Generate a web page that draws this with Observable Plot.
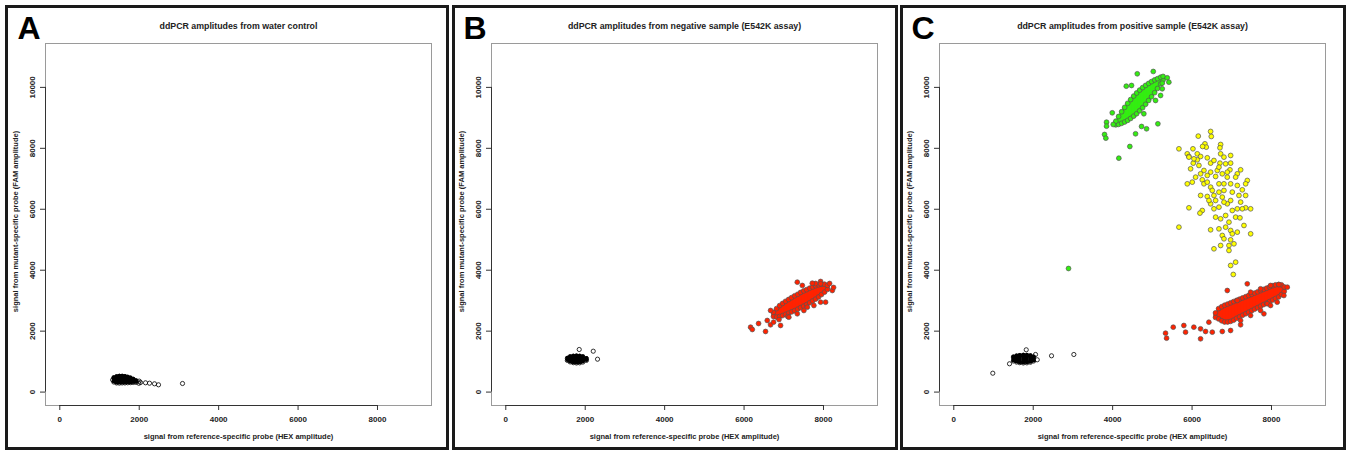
<!DOCTYPE html>
<html><head><meta charset="utf-8">
<script src="https://cdn.jsdelivr.net/npm/d3@7"></script>
<script src="https://cdn.jsdelivr.net/npm/@observablehq/plot@0.6"></script>
<style>
body{margin:0;background:#fff;}
#root{position:relative;width:1350px;height:451px;overflow:hidden;background:#fff;}
.border{position:absolute;box-sizing:border-box;border:3px solid #1a1a1a;top:5px;height:445px;}
</style></head><body><div id="root"></div>
<script>
// ---- axes / text ----
const xDomain = [-360, 9360];
const yDomain = [-440, 11440];
const xTicks = [0, 2000, 4000, 6000, 8000];
const yTicks = [0, 2000, 4000, 6000, 8000, 10000];
const panelLetters = ["A", "B", "C"];
const panelTitles = [
  "ddPCR amplitudes from water control",
  "ddPCR amplitudes from negative sample (E542K assay)",
  "ddPCR amplitudes from positive sample (E542K assay)"
];
const xLabel = "signal from reference-specific probe (HEX amplitude)";
const yLabel = "signal from mutant-specific probe (FAM amplitude)";

// ---- Panel A: water control (negative droplets, open black circles) ----
const coreAx  = [1360, 1430, 1500, 1570, 1640, 1710, 1780, 1850, 1920];
const coreAlo = [330, 300, 295, 300, 300, 305, 310, 315, 320];
const coreAhi = [470, 505, 520, 520, 510, 490, 460, 420, 370];
const looseA = [[1330,400],[2000,360],[1990,290],[2033,315],[2159,305],[2259,292],[2385,272],[2486,239],[3090,282]];

// ---- Panel B: negative sample ----
const coreBx  = [1550, 1620, 1700, 1780, 1860, 1940, 2030];
const coreBlo = [1040, 990, 965, 955, 960, 985, 1040];
const coreBhi = [1110, 1160, 1180, 1185, 1180, 1160, 1100];
const looseB = [[1849,1398],[2202,1342],[2310,1080]];
const redBx  = [6740, 6818, 6895, 6970, 7045, 7121, 7195, 7272, 7350, 7423, 7500, 7574, 7650, 7725, 7800, 7876, 7950, 8027, 8100];
const redBlo = [2480, 2460, 2480, 2510, 2550, 2590, 2630, 2670, 2720, 2770, 2820, 2870, 2930, 2990, 3050, 3120, 3200, 3280, 3370];
const redBhi = [2620, 2740, 2840, 2910, 2980, 3040, 3100, 3160, 3210, 3270, 3320, 3360, 3410, 3450, 3490, 3520, 3540, 3540, 3500];
const redBloose = [[6164,2130],[6207,2054],[6365,2251],[6541,1989],[6584,2350],[6667,2209],[6743,2294],[6919,2186],[6667,2678],
  [8222,3334],[8053,2950],[7592,2786],[7340,3607],[8154,3564],[8254,3433],[7927,3630],[7801,3564],[6880,2380],[7100,2480],
  [7467,3499],[7718,3574],[7927,3555],[7506,2678],[7758,2842],[7927,2950],[7340,2570],[7128,2458]];

// ---- Panel C: positive sample ----
const coreCx  = [1500, 1580, 1660, 1750, 1840, 1930, 2010];
const coreClo = [1020, 985, 965, 955, 960, 980, 1020];
const coreChi = [1150, 1185, 1200, 1210, 1205, 1190, 1150];
const looseC = [[1824,1388],[2058,1234],[2101,1060],[1403,929],[2461,1191],[3023,1234],[982,620]];
const redCx  = [6590, 6668, 6745, 6819, 6895, 6970, 7045, 7121, 7195, 7272, 7350, 7423, 7500, 7574, 7650, 7725, 7800, 7877, 7950, 8028, 8100, 8179, 8250, 8320];
const redClo = [2450, 2400, 2340, 2300, 2300, 2320, 2360, 2420, 2470, 2520, 2570, 2620, 2670, 2720, 2770, 2820, 2870, 2920, 2970, 3020, 3070, 3120, 3200, 3300];
const redChi = [2600, 2740, 2800, 2850, 2890, 2930, 2970, 3010, 3050, 3090, 3130, 3170, 3210, 3250, 3290, 3330, 3370, 3410, 3450, 3490, 3520, 3530, 3520, 3450];
const redCloose = [[5332,1933],[5358,1769],[5526,2130],[5793,2186],[5836,1966],[6045,2130],[6214,1749],[6214,2077],[6423,2294],
  [6340,1989],[6509,1966],[6761,1989],[6970,2022],[7222,2209],[7809,2570],[7894,2898],[7390,3554],[8312,3170],[8398,3443],[8186,3531],[6887,3334],
  [7474,3279],[7725,3390],[7977,3499],[7139,3006],[7474,2514],[7725,2678],[7977,2842],[7222,2350],[8144,2950]];
const greenCx  = [4080, 4150, 4226, 4302, 4378, 4453, 4530, 4604, 4680, 4755, 4830, 4906, 4980, 5057, 5130, 5208, 5270];
const greenClo = [8770, 8785, 8820, 8863, 8917, 8980, 9055, 9135, 9230, 9333, 9445, 9570, 9690, 9825, 9965, 10114, 10240];
const greenChi = [8890, 9045, 9200, 9343, 9477, 9600, 9715, 9815, 9910, 9993, 10065, 10130, 10190, 10245, 10285, 10334, 10360];
const greenCloose = [[4620,10446],[5023,10522],[5375,10315],[5416,10171],[5249,10138],[5249,9954],[5207,9734],[5081,9570],
  [4786,9134],[5139,8805],[4728,8717],[4854,8641],[4577,8477],[4433,8060],[4156,7676],[3990,9166],[3846,8858],[3846,8727],
  [4015,8783],[3796,8454],[3829,8333],[4343,10039],[4476,10062],[2889,4056]];
const yellowC = [[6467,8553],[6484,8389],[6156,8400],[6719,8126],[6702,8017],[6324,8148],[6358,8039],[6265,8061],[6022,7984],
  [5669,7984],[5879,7820],[5921,7733],[6131,7820],[6215,7733],[6131,7623],[6030,7514],[6383,7689],[6467,7514],[6551,7601],
  [6719,7820],[6971,7765],[6702,7514],[6845,7492],[6971,7514],[6954,7295],[7223,7295],[7139,7164],[7097,7054],[6887,7054],
  [6761,7164],[6635,7273],[6467,7218],[6299,7273],[5963,7328],[6173,7437],[6005,6890],[5879,6835],[6257,6967],[6299,6835],
  [6383,6890],[6467,6726],[6509,6617],[6215,6453],[6383,6420],[6551,6453],[6677,6562],[6803,6617],[6971,6835],[7139,6781],
  [7391,6945],[7349,6835],[7265,6638],[6761,6398],[6971,6288],[6887,6179],[6803,6234],[7223,6234],[7349,6048],[7139,6015],
  [7013,5960],[6677,6070],[6551,6015],[6467,6179],[6257,5960],[6198,5873],[5921,6048],[6593,5741],[6719,5687],[6845,5796],
  [7097,5741],[6929,5577],[7206,5719],[7307,5468],[6677,5358],[6467,5326],[6845,5413],[6971,5304],[7013,5194],[7139,5249],
  [7475,5194],[6761,5140],[6803,5030],[6971,4997],[7055,4866],[6929,4811],[6551,4702],[6719,4811],[6929,4647],[5669,5413],
  [6971,4155],[7097,4264],[7038,3860],[6593,6288],[6425,6288],[6677,6835],[6803,6835],[6593,7076],[6383,7109],[6215,7164],
  [6089,7054],[5921,7711],[6047,7656],[6803,7711],[6887,7218],[6677,7382],[7013,6562],[7181,6453],[7349,6453],[7265,6015],[7475,6015]];

// ---- styles ----
const RED = "#ff2200", GREEN = "#33ee11", YELLOW = "#ffff00", OUTLINE = "#555";
const FONT = "Liberation Sans, Arial, sans-serif";

const table = (xs, los, his) => xs.map((x, i) => ({x, lo: los[i], hi: his[i]}));

function clusterMarks(core, loose, fill, open, colW) {
  const dotOpts = open
    ? {r: 2.1, fill: "none", stroke: "black", strokeWidth: 0.8}
    : {r: 2.4, fill, stroke: OUTLINE, strokeWidth: 0.7};
  const marks = [];
  if (core) {
    // dense droplet core: solid columns between lower and upper edge
    marks.push(Plot.ruleX(core, {x: "x", y1: "lo", y2: "hi", stroke: open ? "black" : fill, strokeWidth: colW, strokeLinecap: open ? "round" : "butt"}));
    marks.push(Plot.dot(core, {x: "x", y: "lo", ...dotOpts}));
    marks.push(Plot.dot(core, {x: "x", y: "hi", ...dotOpts}));
  }
  if (loose) marks.push(Plot.dot(loose, {x: d => d[0], y: d => d[1], ...dotOpts}));
  return marks;
}

const panels = [
  {offset: 0, layers: [
    clusterMarks(table(coreAx, coreAlo, coreAhi), looseA, null, true, 4)
  ]},
  {offset: 446, layers: [
    clusterMarks(table(coreBx, coreBlo, coreBhi), looseB, null, true, 4),
    clusterMarks(table(redBx, redBlo, redBhi), redBloose, RED, false, 4.5)
  ]},
  {offset: 894, layers: [
    clusterMarks(table(coreCx, coreClo, coreChi), looseC, null, true, 4),
    clusterMarks(table(redCx, redClo, redChi), redCloose, RED, false, 4.5),
    clusterMarks(table(greenCx, greenClo, greenChi), greenCloose, GREEN, false, 4.5),
    clusterMarks(null, yellowC, YELLOW, false, 0)
  ]}
];

const borders = [[5, 444], [452, 446], [900, 446]];
const root = document.getElementById("root");
const fmt = d => String(d);

panels.forEach((p, i) => {
  const b = document.createElement("div");
  b.className = "border";
  b.style.left = borders[i][0] + "px";
  b.style.width = borders[i][1] + "px";
  root.appendChild(b);

  const chart = Plot.plot({
    width: 450, height: 451,
    marginLeft: 45, marginRight: 19, marginTop: 43, marginBottom: 46,
    x: {domain: xDomain},
    y: {domain: yDomain},
    style: {fontFamily: FONT, fontWeight: "bold", background: "transparent", color: "#222", overflow: "visible"},
    marks: [
      Plot.frame({stroke: "#9a9a9a", strokeWidth: 1}),
      Plot.ruleY([yDomain[0]], {x1: xTicks[0], x2: xTicks[xTicks.length - 1], stroke: "#333"}),
      Plot.ruleX([xDomain[0]], {y1: yTicks[0], y2: yTicks[yTicks.length - 1], stroke: "#333"}),
      Plot.axisX(xTicks, {tickSize: 5, tickPadding: 6, tickFormat: fmt, fontSize: 8, label: null, stroke: "#333"}),
      Plot.axisY(yTicks, {tickSize: 5, tickFormat: () => "", label: null, stroke: "#333"}),
      Plot.text(yTicks, {y: d => d, text: fmt, frameAnchor: "left", dx: -13, rotate: -90, textAnchor: "middle", lineAnchor: "middle", fontSize: 8, fill: "#222"}),
      Plot.text([xLabel], {text: d => d, frameAnchor: "bottom", dy: 31.5, textAnchor: "middle", lineAnchor: "middle", fontSize: 7.5, fill: "#222"}),
      Plot.text([yLabel], {text: d => d, frameAnchor: "left", dx: -30, dy: -3, rotate: -90, textAnchor: "middle", lineAnchor: "middle", fontSize: 7.5, fill: "#222"}),
      Plot.text([panelTitles[i]], {text: d => d, frameAnchor: "top", dy: -17, textAnchor: "middle", lineAnchor: "middle", fontSize: 8.8, fill: "#222"}),
      Plot.text([panelLetters[i]], {text: d => d, frameAnchor: "top-left", dx: -28, dy: -15, textAnchor: "start", lineAnchor: "middle", fontSize: 32, fill: "#000"}),
      ...p.layers.flat()
    ]
  });
  chart.style.position = "absolute";
  chart.style.top = "0px";
  chart.style.left = p.offset + "px";
  root.appendChild(chart);
});
</script></body></html>
